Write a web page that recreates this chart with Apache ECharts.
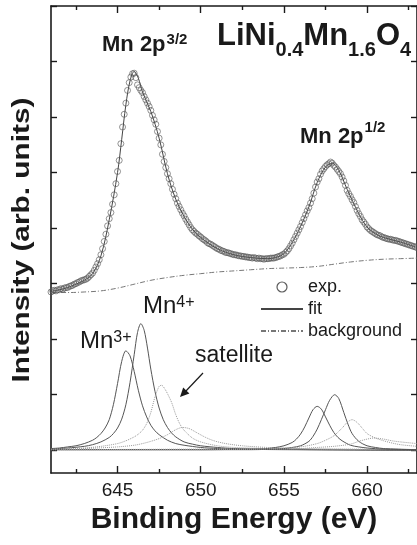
<!DOCTYPE html>
<html>
<head>
<meta charset="utf-8">
<script src="https://cdn.jsdelivr.net/npm/echarts@6/dist/echarts.min.js"></script>
<style>
html,body{margin:0;padding:0;background:#fff;}
#chart{width:417px;height:545px;}
</style>
</head>
<body>
<div id="chart"></div>
<script>
// ---------- data ----------
// experimental points, 0.1 eV grid starting at 641.0 eV
const expStartEnergy = 641.0;
const expStepEnergy = 0.1;
const expIntensity = [
  2.85,2.87,2.88,2.87,2.89,2.89,2.91,2.90,2.92,2.93,
  2.93,2.95,2.96,2.97,2.99,3.00,3.02,3.03,3.05,3.06,
  3.07,3.08,3.10,3.13,3.16,3.19,3.24,3.30,3.36,3.43,
  3.52,3.63,3.76,3.89,4.04,4.17,4.28,4.43,4.60,4.80,
  5.02,5.22,5.52,5.82,6.05,6.25,6.48,6.62,6.72,6.78,
  6.79,6.71,6.58,6.53,6.48,6.44,6.37,6.31,6.25,6.19,
  6.12,6.03,5.95,5.87,5.74,5.62,5.50,5.33,5.20,5.09,
  4.98,4.89,4.80,4.70,4.61,4.53,4.45,4.39,4.33,4.27,
  4.22,4.16,4.11,4.06,4.01,3.97,3.94,3.91,3.89,3.86,
  3.84,3.81,3.79,3.77,3.74,3.72,3.71,3.69,3.67,3.65,
  3.63,3.62,3.60,3.59,3.58,3.56,3.56,3.55,3.54,3.53,
  3.52,3.52,3.51,3.50,3.50,3.49,3.49,3.48,3.48,3.47,
  3.47,3.46,3.47,3.46,3.45,3.46,3.45,3.45,3.44,3.45,
  3.45,3.45,3.46,3.46,3.46,3.47,3.48,3.49,3.50,3.52,
  3.53,3.56,3.59,3.63,3.68,3.73,3.79,3.85,3.91,3.97,
  4.03,4.10,4.17,4.24,4.31,4.37,4.45,4.53,4.63,4.74,
  4.83,4.89,4.97,5.03,5.07,5.11,5.14,5.16,5.19,5.17,
  5.13,5.10,5.06,5.02,4.98,4.92,4.85,4.77,4.68,4.62,
  4.57,4.51,4.46,4.39,4.32,4.26,4.21,4.15,4.11,4.07,
  4.02,3.99,3.96,3.94,3.92,3.90,3.88,3.87,3.86,3.84,
  3.83,3.82,3.81,3.80,3.80,3.79,3.78,3.78,3.77,3.76,
  3.75,3.74,3.73,3.72,3.71,3.70,3.69,3.68,3.67,3.66,
  3.65
];

const fitCurve = [
  [641,2.86],[641.5,2.89],[642,2.93],[642.5,2.99],[643,3.06],[643.5,3.18],[644,3.50],
  [644.5,4.15],[645,5.00],[645.25,5.60],[645.5,6.22],[645.75,6.65],[646,6.82],[646.25,6.70],
  [646.5,6.45],[647,6.10],[647.5,5.62],[648,4.98],[648.5,4.52],[649,4.21],[649.5,3.98],
  [650,3.83],[651,3.63],[652,3.52],[653,3.47],[654,3.45],[654.5,3.47],[655,3.54],[655.5,3.74],
  [656,4.03],[656.5,4.38],[657,4.82],[657.5,5.10],[657.9,5.17],[658.3,5.04],[658.8,4.70],
  [659.5,4.26],[660,4.02],[660.5,3.90],[661,3.83],[662,3.75],[663,3.65]
];

const backgroundCurve = [
  [641,2.84],[642,2.84],[643,2.85],[644,2.87],[645,2.92],[646,2.99],[647,3.06],[648,3.11],
  [649,3.15],[650,3.18],[651,3.21],[652,3.23],[653,3.25],[654,3.27],[655,3.28],[656,3.29],
  [657,3.31],[658,3.35],[659,3.39],[660,3.42],[661,3.44],[662,3.45],[663,3.46]
];

const mn3Peak = [
  [641,0.03],[641.5,0.04],[642,0.06],[642.5,0.08],[643,0.12],[643.5,0.18],[643.75,0.23],[644,0.30],
  [644.25,0.40],[644.5,0.55],[644.75,0.82],[645,1.20],[645.25,1.60],[645.5,1.79],[645.75,1.70],
  [646,1.42],[646.25,1.08],[646.5,0.80],[646.75,0.60],[647,0.45],[647.25,0.35],[647.5,0.28],
  [648,0.18],[648.5,0.12],[649,0.09],[650,0.05],[651,0.03],[652,0.02],[655,0.01],[663,0.0]
];
const mn4Peak = [
  [641,0.02],[642,0.04],[643,0.07],[643.5,0.10],[644,0.15],[644.5,0.23],[644.75,0.30],[645,0.40],
  [645.25,0.56],[645.5,0.82],[645.75,1.22],[646,1.72],[646.2,2.12],[646.4,2.28],[646.6,2.16],
  [646.8,1.84],[647,1.46],[647.25,1.06],[647.5,0.76],[647.75,0.55],[648,0.41],[648.25,0.31],
  [648.5,0.24],[649,0.15],[649.5,0.11],[650,0.08],[651,0.05],[652,0.03],[654,0.02],[657,0.01],[663,0.0]
];
const satellitePeak1 = [
  [641,0.02],[642,0.03],[643,0.04],[644,0.07],[645,0.12],[645.5,0.17],[646,0.24],[646.25,0.29],
  [646.5,0.36],[646.75,0.48],[647,0.68],[647.25,0.96],[647.5,1.15],[647.65,1.17],[647.85,1.10],
  [648,1.02],[648.25,0.86],[648.5,0.64],[648.75,0.47],[649,0.36],[649.5,0.22],[650,0.15],
  [651,0.08],[652,0.05],[654,0.03],[656,0.02],[663,0.01]
];
const satellitePeak2 = [
  [641,0.01],[643,0.03],[645,0.06],[646,0.09],[646.5,0.12],[647,0.16],[647.5,0.21],[648,0.28],
  [648.5,0.37],[648.9,0.41],[649.3,0.39],[649.8,0.31],[650.3,0.23],[650.8,0.17],[651.5,0.12],
  [652.5,0.08],[654,0.05],[656,0.03],[663,0.01]
];
const mn3PeakHalf = [
  [641,0.01],[650,0.01],[653,0.02],[654,0.03],[654.5,0.05],[655,0.08],[655.5,0.14],[655.75,0.20],
  [656,0.29],[656.25,0.42],[656.5,0.58],[656.75,0.73],[657,0.79],[657.25,0.74],[657.5,0.60],
  [657.75,0.45],[658,0.32],[658.25,0.23],[658.5,0.17],[659,0.09],[659.5,0.06],[660,0.04],
  [661,0.02],[663,0.01]
];
const mn4PeakHalf = [
  [641,0.01],[653,0.01],[655,0.03],[655.5,0.05],[656,0.08],[656.5,0.16],[656.75,0.25],[657,0.38],
  [657.25,0.55],[657.5,0.73],[657.75,0.90],[658.05,1.00],[658.3,0.93],[658.6,0.68],[658.85,0.47],
  [659.1,0.30],[659.5,0.16],[660,0.08],[660.5,0.05],[661,0.03],[663,0.01]
];
const satellitePeak3 = [
  [641,0.01],[650,0.02],[654,0.03],[655,0.04],[656,0.06],[657,0.12],[657.5,0.18],[658,0.26],
  [658.5,0.40],[658.8,0.50],[659.1,0.55],[659.4,0.50],[659.7,0.40],[660,0.30],[660.5,0.22],
  [661,0.17],[661.5,0.13],[662,0.10],[663,0.07]
];
const satellitePeak4 = [
  [641,0.01],[650,0.01],[654,0.02],[656,0.03],[657,0.05],[658,0.07],[659,0.11],[659.5,0.16],
  [660,0.20],[660.4,0.22],[661,0.20],[661.5,0.17],[662,0.15],[663,0.12]
];

const xMajorTicks = [645, 650, 655, 660];
const xMinorTicks = [642.5, 647.5, 652.5, 657.5, 662.5];
const yTicks = [0, 1, 2, 3, 4, 5, 6, 7, 8];

// ---------- chart ----------
const FONT = '"Liberation Sans", Arial, Helvetica, sans-serif';
const INK = '#1a1a1a';
const expData = expIntensity.map((v, i) => [+(expStartEnergy + expStepEnergy * i).toFixed(1), v]);

const measureCtx = document.createElement('canvas').getContext('2d');
function textWidth(font, t) { measureCtx.font = font; return measureCtx.measureText(t).width; }

// text pieces laid out left to right, each on its own baseline (for sup/sub)
function pieces(x, list) {
  const els = [];
  let cx = x;
  list.forEach(p => {
    const font = (p.bold ? 'bold ' : '') + p.size + 'px ' + FONT;
    els.push({
      type: 'text', x: cx, y: p.base - 0.35 * p.size, z: 100,
      style: { text: p.t, font: font, fill: INK, align: 'left', verticalAlign: 'middle',
               textAlign: 'left', textVerticalAlign: 'middle' }
    });
    cx += textWidth(font, p.t) + (p.gap || 0);
  });
  return els;
}

const yTitleFont = 'bold 23px ' + FONT;
const yTitle = 'Intensity (arb. units)';
const yTitleScale = 285 / textWidth(yTitleFont, yTitle);

const graphics = [].concat(
  pieces(102, [{t:'Mn 2p', size:22, bold:true, base:53, gap:1}, {t:'3/2', size:15, bold:true, base:45}]),
  pieces(217, [{t:'LiNi', size:31, bold:true, base:47}, {t:'0.4', size:20, bold:true, base:57},
               {t:'Mn', size:31, bold:true, base:47}, {t:'1.6', size:20, bold:true, base:57},
               {t:'O', size:31, bold:true, base:47}, {t:'4', size:20, bold:true, base:57}]),
  pieces(300, [{t:'Mn 2p', size:22, bold:true, base:145, gap:1}, {t:'1/2', size:15, bold:true, base:133}]),
  pieces(80, [{t:'Mn', size:24, base:350}, {t:'3+', size:16, base:343}]),
  pieces(143, [{t:'Mn', size:24, base:315}, {t:'4+', size:16, base:308}]),
  pieces(195, [{t:'satellite', size:23, base:364}]),
  [
    { type: 'line', z: 100, shape: { x1: 203, y1: 373, x2: 185, y2: 392 },
      style: { stroke: INK, lineWidth: 1.2 } },
    { type: 'polygon', z: 100, shape: { points: [[180, 397], [183.2, 387.6], [189.4, 393.4]] },
      style: { fill: INK } },
    { type: 'text', x: 23, y: 240, rotation: Math.PI / 2, scaleX: yTitleScale, z: 100,
      style: { text: yTitle, font: yTitleFont, fill: INK, align: 'center', verticalAlign: 'middle',
               textAlign: 'center', textVerticalAlign: 'middle' } }
  ]
);

function xAxisDef(position, ticks, len, showLine, showLabel, extra) {
  return Object.assign({
    type: 'value', position: position, min: 641, max: 663, gridIndex: 0,
    axisLine: { show: showLine, onZero: false, lineStyle: { color: INK, width: 1.6 } },
    axisTick: { show: true, inside: true, length: len, customValues: ticks,
                lineStyle: { color: INK, width: 1.4 } },
    axisLabel: { show: showLabel, customValues: ticks, fontSize: 19, color: INK,
                 fontFamily: FONT, margin: 8 },
    splitLine: { show: false }
  }, extra || {});
}
function yAxisDef(position, showLine, extra) {
  return Object.assign({
    type: 'value', position: position, min: -0.41, max: 8, gridIndex: 0,
    axisLine: { show: showLine, onZero: false, lineStyle: { color: INK, width: 1.6 } },
    axisTick: { show: true, inside: true, length: 6, customValues: yTicks,
                lineStyle: { color: INK, width: 1.4 } },
    axisLabel: { show: false },
    splitLine: { show: false }
  }, extra || {});
}

function comp(name, data, color, type, width) {
  return {
    name: name, type: 'line', data: data, xAxisIndex: 0, yAxisIndex: 0,
    symbol: 'none', smooth: 0.3, silent: true, z: 2,
    lineStyle: { color: color, width: width, type: type }
  };
}

const hiddenSymbol = { color: 'rgba(0,0,0,0)', borderColor: 'rgba(0,0,0,0)', borderWidth: 0, opacity: 0 };

const option = {
  animation: false,
  backgroundColor: '#fff',
  grid: { left: 51, top: 6, width: 367, height: 467, show: false, containLabel: false },
  xAxis: [
    xAxisDef('bottom', xMajorTicks, 7, true, true, {
      name: 'Binding Energy (eV)', nameLocation: 'middle', nameGap: 30,
      nameTextStyle: { fontSize: 30, fontWeight: 'bold', color: INK, fontFamily: FONT }
    }),
    xAxisDef('bottom', xMinorTicks, 4, false, false),
    xAxisDef('top', xMajorTicks, 7, true, false),
    xAxisDef('top', xMinorTicks, 4, false, false)
  ],
  yAxis: [
    yAxisDef('left', true),
    yAxisDef('right', true)
  ],
  legend: {
    data: [
      { name: 'exp.', icon: 'circle', itemStyle: { color: 'rgba(0,0,0,0)', borderColor: '#333', borderWidth: 1.2 } },
      { name: 'fit', itemStyle: hiddenSymbol },
      { name: 'background', itemStyle: hiddenSymbol }
    ],
    orient: 'vertical', left: 260, top: 278, padding: 0, itemGap: 4,
    itemWidth: 42, itemHeight: 10, selectedMode: false,
    textStyle: { fontSize: 18, lineHeight: 18, color: INK, fontFamily: FONT }
  },
  graphic: graphics,
  series: [
    comp('c1', mn3Peak, '#555', 'solid', 1),
    comp('c2', mn4Peak, '#555', 'solid', 1),
    comp('c3', satellitePeak1, '#999', 'dotted', 1),
    comp('c4', satellitePeak2, '#999', 'dotted', 1),
    comp('c5', mn3PeakHalf, '#555', 'solid', 1),
    comp('c6', mn4PeakHalf, '#555', 'solid', 1),
    comp('c7', satellitePeak3, '#999', 'dotted', 1),
    comp('c8', satellitePeak4, '#999', 'dotted', 1),
    {
      name: 'background', type: 'line', data: backgroundCurve, symbol: 'none', smooth: 0.4, z: 3,
      itemStyle: { color: '#777' },
      lineStyle: { color: '#777', width: 1, type: [5, 2, 1, 2] }
    },
    {
      name: 'fit', type: 'line', data: fitCurve, symbol: 'none', smooth: 0.35, z: 4,
      itemStyle: { color: '#444' },
      lineStyle: { color: '#444', width: 1 }
    },
    {
      name: 'exp.', type: 'scatter', data: expData, symbol: 'circle', symbolSize: 6, z: 5,
      itemStyle: { color: 'rgba(0,0,0,0)', borderColor: '#555', borderWidth: 0.8 }
    }
  ]
};

const chart = echarts.init(document.getElementById('chart'), null, { renderer: 'canvas', width: 417, height: 545 });
chart.setOption(option);
</script>
</body>
</html>
